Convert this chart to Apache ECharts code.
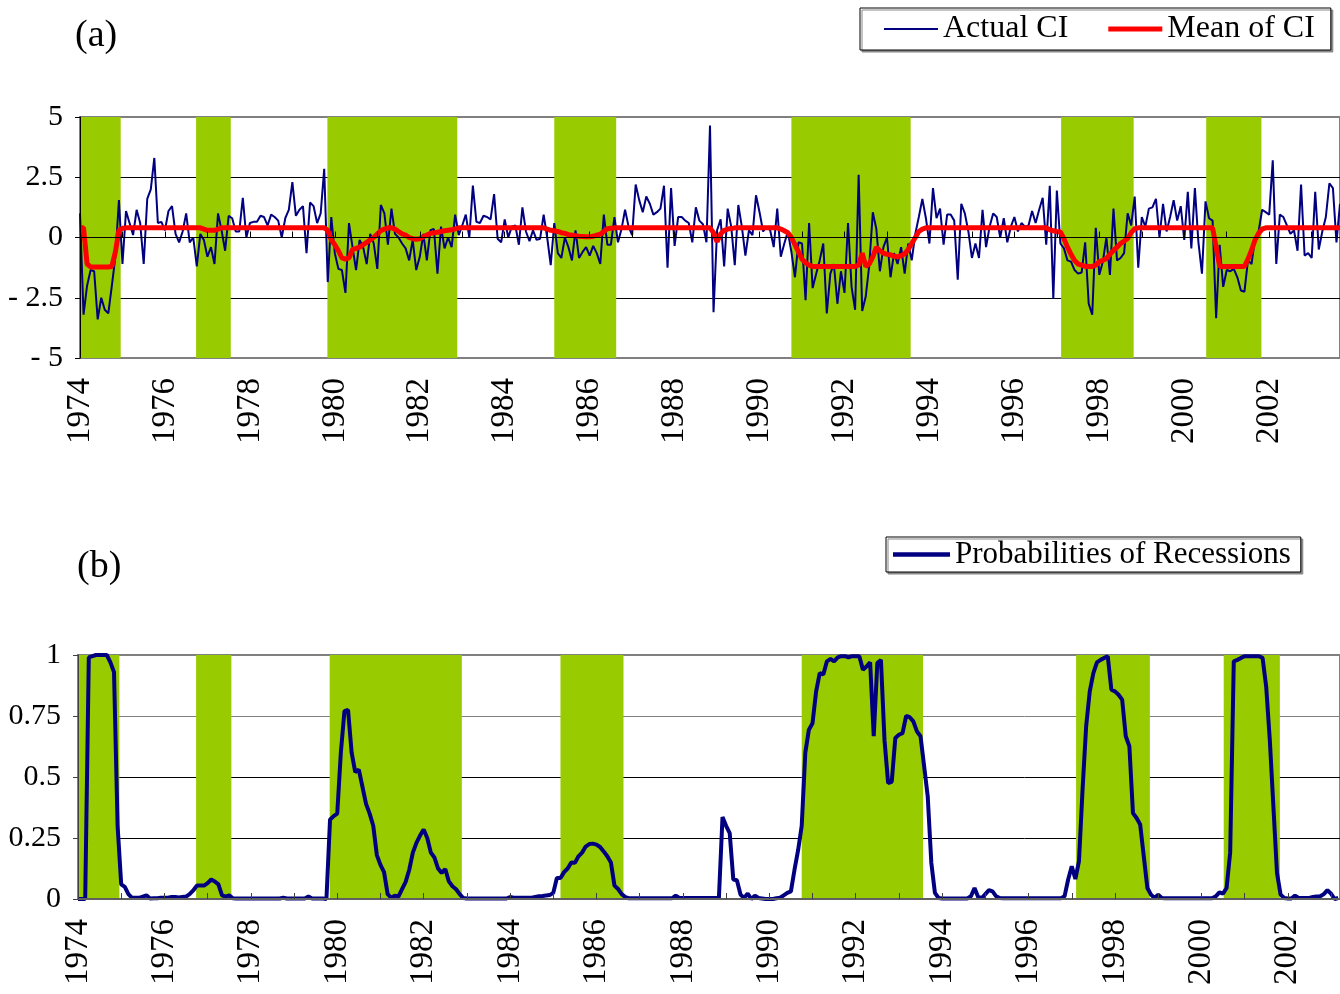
<!DOCTYPE html>
<html><head><meta charset="utf-8">
<script src="https://cdn.jsdelivr.net/npm/echarts/dist/echarts.min.js"></script>
<style>html,body{margin:0;padding:0;background:#fff}#c{width:1340px;height:994px}</style>
</head><body><div id="c"></div><script>
// Year labels every 24 months, starting at month index 0
const yearLabels = ['1974','1976','1978','1980','1982','1984','1986','1988','1990','1992','1994','1996','1998','2000','2002'];
const ciTickLabels = ['- 5','- 2.5','0','2.5','5'];
const probTickLabels = ['0','0.25','0.5','0.75','1'];
// Recession periods (month index from start)
const recessionBands = [[0,11.5],[32.8,42.6],[69.9,106.6],[134,151.5],[201,234.7],[277.2,297.7],[318.2,333.8]];

const actualCI = [
1.0,-3.2,-2.0,-1.35,-1.4,-3.4,-2.5,-3.0,-3.15,-2.0,
-0.8,1.55,-1.1,1.1,0.6,0.1,1.15,0.6,-1.1,1.6,
2.0,3.3,0.6,0.65,0.3,1.1,1.3,0.15,-0.2,0.25,
1.0,-0.2,0.0,-1.2,0.15,-0.1,-0.8,-0.4,-1.1,1.0,
0.3,-0.55,0.9,0.8,0.25,0.25,1.65,0.0,0.6,0.65,
0.65,0.9,0.85,0.5,0.95,0.85,0.7,0.0,0.8,1.15,
2.3,0.9,1.15,1.3,-0.65,1.45,1.3,0.6,1.0,2.85,
-1.85,0.85,-0.65,-1.3,-1.35,-2.3,0.6,-0.4,-1.35,-0.1,
-0.4,-1.1,0.15,-0.25,-1.3,1.35,1.0,-0.3,1.2,0.15,
0.0,-0.25,-0.45,-0.95,-0.1,-1.35,-0.8,0.15,-0.95,0.3,
0.35,
-1.5,0.45,-0.45,0.0,-0.4,0.95,0.1,0.5,0.95,0.0,
2.15,0.65,0.6,0.9,0.85,0.75,1.8,-0.05,-0.2,0.75,
0.0,0.45,0.5,-0.3,1.25,0.25,-0.15,0.3,-0.1,-0.05,
0.95,0.0,-1.15,0.6,-0.65,-0.85,0.0,-0.4,-0.95,0.3,
-0.85,-0.6,-0.4,-0.75,-0.35,-0.65,-1.1,0.95,-0.3,-0.3,
0.85,-0.2,0.35,1.15,0.45,0.1,2.2,1.55,1.05,1.7,
1.4,0.95,1.05,1.2,2.15,-1.25,2.05,-0.35,0.85,0.85,
0.7,0.6,-0.2,1.25,0.7,0.55,-0.2,4.65,-3.1,0.3,
0.75,-1.2,1.2,0.45,-1.15,1.35,0.45,-0.75,0.3,0.1,
1.75,1.05,0.25,0.45,0.3,-0.4,1.2,-0.8,-0.25,0.25,
-0.6,-1.65,-0.2,-0.25,-2.6,0.6,-2.1,-1.5,-0.95,-0.25,
-3.15,-1.5,-1.1,-2.75,-1.4,-2.3,0.6,-2.05,-3.0,2.6,
-3.05,-2.45,-1.15,1.05,0.35,
-1.4,-0.4,0.0,-1.65,-0.65,-1.1,-0.4,-1.5,-0.25,-0.95,
0.15,0.85,1.6,0.8,-0.25,2.05,0.8,1.2,-0.3,0.95,
0.95,0.7,-1.75,1.4,1.0,0.25,-0.85,-0.25,-0.85,1.15,
-0.4,0.45,1.0,0.85,0.0,0.8,-0.2,0.45,0.85,0.25,
0.6,0.45,0.5,1.1,0.6,1.15,1.65,-0.3,2.15,-2.55,
1.95,-0.25,-0.45,-0.95,-1.0,-1.35,-1.5,-1.45,-0.2,-2.75,
-3.2,0.4,-1.55,-1.0,0.0,-1.55,1.2,-0.95,-0.85,-0.65,
1.0,0.5,1.7,-1.25,0.85,0.45,1.2,1.25,1.6,0.0,
1.4,0.25,0.85,1.55,0.7,1.3,-0.1,1.9,-0.45,2.05,
-0.2,-1.5,1.5,0.8,0.7,-3.35,-0.3,-2.05,-1.35,-1.4,
-1.3,-1.65,-2.2,-2.25,-0.95,-1.1,-0.05,0.25,1.15,1.05,
0.95,3.2,-1.1,0.95,0.85,0.5,0.15,0.3,-0.55,2.2,
-0.75,-0.65,-0.85,1.9,-0.5,0.25,0.85,2.25,2.05,-0.2,
1.4
];

const meanCI = [
0.4,0.4,-1.1,-1.22,-1.22,-1.22,-1.22,-1.22,-1.22,-1.2,
-0.6,0.3,0.38,
0.4,0.4,0.4,0.4,0.4,0.4,0.4,0.4,0.4,0.4,0.4,0.4,0.4,0.4,0.4,0.4,0.4,0.4,0.4,0.4,0.4,0.4,
0.35,0.3,0.3,0.3,0.35,
0.4,0.4,0.4,0.4,0.4,0.4,0.4,0.4,0.4,0.4,0.4,0.4,0.4,0.4,0.4,0.4,0.4,0.4,0.4,0.4,0.4,0.4,0.4,0.4,0.4,0.4,0.4,0.4,0.4,0.4,
0.3,-0.1,-0.3,-0.55,-0.85,-0.9,-0.85,-0.5,-0.45,-0.4,
-0.3,-0.2,-0.1,0.0,0.15,0.28,0.35,0.4,0.4,0.35,
0.25,0.15,0.1,0.0,-0.05,-0.07,-0.05,0.03,0.1,0.17,
0.2,0.22,0.25,0.28,0.3,0.32,0.36,
0.4,0.4,0.4,0.4,0.4,0.4,0.4,0.4,0.4,0.4,0.4,0.4,0.4,0.4,0.4,0.4,0.4,0.4,0.4,0.4,0.4,0.4,0.4,0.4,0.4,
0.35,0.3,0.28,0.25,0.2,0.17,0.12,0.1,0.07,0.05,
0.04,0.03,0.03,0.05,0.1,0.14,0.25,0.36,0.38,
0.4,0.4,0.4,0.4,0.4,0.4,0.4,0.4,0.4,0.4,0.4,0.4,0.4,0.4,0.4,0.4,0.4,0.4,0.4,0.4,0.4,0.4,0.4,0.4,0.4,0.4,0.4,0.4,
0.2,-0.18,0.15,0.3,0.35,0.37,
0.4,0.4,0.4,0.4,0.4,0.4,0.4,0.4,0.4,0.4,0.4,0.4,0.4,
0.35,0.28,0.2,0.0,-0.3,-0.6,-0.9,-1.05,-1.15,
-1.2,-1.2,-1.2,-1.2,-1.2,-1.2,-1.2,-1.2,-1.2,-1.2,-1.2,-1.2,-1.2,
-1.15,-0.65,-1.2,-1.1,-0.8,-0.4,-0.55,-0.65,-0.7,-0.72,
-0.78,-0.8,-0.75,-0.68,-0.5,-0.25,0.0,0.25,0.35,
0.4,0.4,0.4,0.4,0.4,0.4,0.4,0.4,0.4,0.4,0.4,0.4,0.4,0.4,0.4,0.4,0.4,0.4,0.4,0.4,0.4,0.4,0.4,0.4,0.4,0.4,0.4,0.4,0.4,0.4,0.4,0.4,0.4,0.4,0.4,
0.32,0.28,0.25,0.23,-0.05,-0.4,-0.7,-0.95,-1.1,-1.15,
-1.2,-1.2,-1.2,-1.15,-1.0,-0.95,-0.87,-0.7,-0.53,-0.4,
-0.25,-0.15,-0.04,0.2,0.37,
0.4,0.4,0.4,0.4,0.4,0.4,0.4,0.4,0.4,0.4,0.4,0.4,0.4,0.4,0.4,0.4,0.4,0.4,0.4,0.4,0.4,0.4,
-0.4,
-1.2,-1.2,-1.2,-1.2,-1.2,-1.2,-1.2,-1.2,
-0.9,-0.53,-0.1,0.17,0.35,
0.4,0.4,0.4,0.4,0.4,0.4,0.4,0.4,0.4,0.4,0.4,0.4,0.4,0.4,0.4,0.4,0.4,0.4,0.4,0.4,0.4,0.4
];

const probRecession = [
0,0,0,0.99,0.995,1,1,1,1,0.97,
0.93,0.3,0.06,0.05,0.02,0.005,0.005,0.005,0.01,0.015,
0.002,0.003,0.003,0.005,0.005,0.005,0.008,0.008,0.006,0.008,
0.01,0.02,0.035,0.055,0.055,0.055,0.065,0.08,0.072,0.06,
0.015,0.01,0.015,0.003,0.002,0.002,0.002,0.002,0.002,0.002,
0.002,0.002,0.002,0.002,0.002,0.002,0.002,0.005,0.002,0.002,
0.002,0.002,0.002,0.002,0.01,0.002,0.002,0.002,0.002,0.0,
0.325,0.34,0.35,0.6,0.77,0.775,0.6,0.52,0.53,0.46,
0.39,0.35,0.3,0.18,0.14,0.11,0.02,0.005,0.014,0.01,
0.04,0.07,0.12,0.19,0.23,0.26,0.285,0.25,0.19,0.17,
0.125,0.107,0.123,0.072,0.052,0.04,0.02,0.004,0.002,0.002,
0.002,0.002,0.002,0.002,0.002,0.002,0.002,0.002,0.002,0.002,
0.008,0.005,0.005,0.005,0.005,0.005,0.005,0.008,0.011,0.012,
0.014,0.016,0.025,0.086,0.086,0.11,0.125,0.15,0.148,0.175,
0.19,0.215,0.225,0.227,0.223,0.213,0.195,0.175,0.15,0.055,
0.041,0.02,0.008,0.003,0.003,0.003,0.003,0.003,0.003,0.003,
0.003,0.003,0.003,0.003,0.003,0.003,0.014,0.004,0.004,0.004,
0.004,0.004,0.004,0.004,0.004,0.004,0.004,0.004,0.004,0.336,
0.3,0.27,0.08,0.077,0.018,0.004,0.022,0.0,0.014,0.004,
0.002,0.0,0.0,0.0,0.003,0.005,0.015,0.025,0.031,0.12,
0.2,0.3,0.6,0.694,0.72,0.85,0.926,0.92,0.974,0.984,
0.974,0.99,0.995,0.995,0.99,0.995,0.995,0.995,0.94,0.953,
0.97,0.667,0.967,0.98,0.65,0.475,0.48,0.66,0.673,0.68,
0.75,0.745,0.728,0.687,0.667,0.544,0.42,0.148,0.025,0.004,
0.002,0.002,0.002,0.002,0.002,0.002,0.002,0.002,0.011,0.045,
0.008,0.004,0.02,0.036,0.031,0.011,0.004,0.003,0.003,0.003,
0.003,0.003,0.003,0.003,0.003,0.003,0.003,0.003,0.003,0.003,
0.003,0.003,0.003,0.003,0.011,0.08,0.134,0.082,0.154,0.448,
0.708,0.851,0.926,0.97,0.98,0.988,0.995,0.858,0.851,0.837,
0.817,0.667,0.626,0.352,0.332,0.305,0.175,0.045,0.018,0.004,
0.018,0.004,0.003,0.003,0.003,0.003,0.003,0.003,0.003,0.003,
0.003,0.003,0.003,0.003,0.003,0.003,0.011,0.027,0.022,0.045,
0.19,0.974,0.98,0.988,0.995,0.995,0.995,0.995,0.995,0.988,
0.87,0.653,0.38,0.107,0.018,0.004,0.002,0.002,0.014,0.004,
0.004,0.004,0.004,0.008,0.01,0.011,0.02,0.036,0.022,0.0,
0.004
];

const FONT = 'Liberation Serif';
const NAVY = '#000080', RED = '#FF0000', GREEN = '#99CC00';

function yearFmt(v) {
  if (v % 24 === 0 && v / 24 < yearLabels.length) return yearLabels[v / 24];
  return '';
}
function tickFmt(labels, min, step) {
  return function (v) {
    const k = Math.round((v - min) / step);
    return Math.abs(min + k * step - v) < 1e-9 ? labels[k] : '';
  };
}
const bandData = recessionBands.map(b => [{ xAxis: b[0] }, { xAxis: b[1] }]);

const chart = echarts.init(document.getElementById('c'), null, { renderer: 'canvas' });
const labelX = { rotate: 90, fontSize: 33, fontFamily: FONT, color: '#000', margin: 20, interval: 0, formatter: yearFmt };
const labelY = { fontSize: 30, fontFamily: FONT, color: '#000', margin: 17 };
// legend line-sample shapes (thin, thick)
const thinIcon = 'path://M0,0 L100,0 L100,4 L0,4 Z';
const thickIcon = 'path://M0,0 L100,0 L100,9 L0,9 Z';
const midIcon = 'path://M0,0 L100,0 L100,8 L0,8 Z';

chart.setOption({
  animation: false,
  backgroundColor: '#fff',
  title: [
    { text: '(a)', left: 75, top: 17, padding: 0, textStyle: { fontSize: 38, fontFamily: FONT, fontWeight: 'normal', color: '#000' } },
    { text: '(b)', left: 77, top: 548, padding: 0, textStyle: { fontSize: 38, fontFamily: FONT, fontWeight: 'normal', color: '#000' } }
  ],
  legend: [
    { data: [{ name: 'Actual CI', icon: thinIcon }, { name: 'Mean of CI', icon: thickIcon }],
      left: 860, top: 8, orient: 'horizontal', padding: [5, 16, 5, 24],
      itemWidth: 54, itemHeight: 14, itemGap: 40, borderColor: '#000', borderWidth: 1,
      shadowColor: '#888', shadowOffsetX: 2, shadowOffsetY: 2, shadowBlur: 0, backgroundColor: '#fff',
      textStyle: { fontSize: 32, fontFamily: FONT, color: '#000' }, selectedMode: false },
    { data: [{ name: 'Probabilities of Recessions', icon: midIcon }], left: 886, top: 537, padding: [2, 10, 2, 7],
      itemWidth: 57, itemHeight: 14, borderColor: '#000', borderWidth: 1,
      shadowColor: '#888', shadowOffsetX: 2, shadowOffsetY: 2, shadowBlur: 0, backgroundColor: '#fff',
      textStyle: { fontSize: 31, fontFamily: FONT, color: '#000' }, selectedMode: false }
  ],
  grid: [
    { left: 80, top: 117, right: 0, height: 241, containLabel: false, outerBoundsMode: 'none',
      show: true, borderColor: '#808080', borderWidth: 2, backgroundColor: 'transparent' },
    { left: 78, top: 655, right: 0, height: 244, containLabel: false, outerBoundsMode: 'none',
      show: true, borderColor: '#808080', borderWidth: 2, backgroundColor: 'transparent' }
  ],
  xAxis: [
    { type: 'value', gridIndex: 0, min: 0, max: 356, interval: 12, position: 'bottom',
      axisLine: { show: false, onZero: false }, axisTick: { show: false }, splitLine: { show: false },
      axisLabel: labelX },
    { type: 'value', gridIndex: 0, min: 0, max: 356, interval: 12, position: 'bottom', z: 10,
      axisLine: { show: true, onZero: true, onZeroAxisIndex: 0, lineStyle: { color: '#000', width: 1 } },
      axisTick: { show: true, inside: true, length: 6, lineStyle: { color: '#000' } },
      axisLabel: { show: false }, splitLine: { show: false } },
    { type: 'value', gridIndex: 1, min: 0, max: 350.5, interval: 12, position: 'bottom', z: 10,
      axisLine: { show: true, onZero: false, lineStyle: { color: '#606060', width: 2 } },
      axisTick: { show: true, inside: true, length: 6, lineStyle: { color: '#404040' } },
      splitLine: { show: false }, axisLabel: labelX }
  ],
  yAxis: [
    { type: 'value', gridIndex: 0, min: -5, max: 5, interval: 2.5, position: 'left',
      axisLine: { show: false }, axisTick: { show: false },
      splitLine: { show: true, lineStyle: { color: ['#808080', '#000', '#000', '#000', '#808080'], width: 1 } },
      axisLabel: Object.assign({ formatter: tickFmt(ciTickLabels, -5, 2.5) }, labelY) },
    { type: 'value', gridIndex: 0, min: -5, max: 5, interval: 2.5, position: 'left', z: 10,
      axisLine: { show: true, onZero: false, lineStyle: { color: '#000', width: 1 } },
      axisTick: { show: true, inside: false, length: 5, lineStyle: { color: '#000' } },
      axisLabel: { show: false }, splitLine: { show: false } },
    { type: 'value', gridIndex: 1, min: 0, max: 1, interval: 0.25, position: 'left',
      axisLine: { show: false }, axisTick: { show: false },
      splitLine: { show: true, lineStyle: { color: ['#000', '#000', '#000', '#808080', '#808080'], width: 1 } },
      axisLabel: Object.assign({ formatter: tickFmt(probTickLabels, 0, 0.25) }, labelY) },
    { type: 'value', gridIndex: 1, min: 0, max: 1, interval: 0.25, position: 'left', z: 10,
      axisLine: { show: true, onZero: false, lineStyle: { color: '#404040', width: 1 } },
      axisTick: { show: true, inside: false, length: 5, lineStyle: { color: '#404040' } },
      axisLabel: { show: false }, splitLine: { show: false } }
  ],
  series: [
    { name: 'Actual CI', type: 'line', xAxisIndex: 0, yAxisIndex: 0, z: 3,
      data: actualCI.map((v, i) => [i, v]), symbol: 'none', showSymbol: false,
      lineStyle: { color: NAVY, width: 2 }, itemStyle: { color: NAVY },
      markArea: { silent: true, itemStyle: { color: GREEN, opacity: 1 }, data: bandData } },
    { name: 'Mean of CI', type: 'line', xAxisIndex: 0, yAxisIndex: 0, z: 4,
      data: meanCI.map((v, i) => [i, v]), symbol: 'none', showSymbol: false,
      lineStyle: { color: RED, width: 5 }, itemStyle: { color: RED } },
    { name: 'Probabilities of Recessions', type: 'line', xAxisIndex: 2, yAxisIndex: 2, z: 3,
      data: probRecession.map((v, i) => [i, v]), symbol: 'none', showSymbol: false,
      lineStyle: { color: NAVY, width: 4 }, itemStyle: { color: NAVY },
      markArea: { silent: true, itemStyle: { color: GREEN, opacity: 1 }, data: bandData } }
  ]
});
</script></body></html>
